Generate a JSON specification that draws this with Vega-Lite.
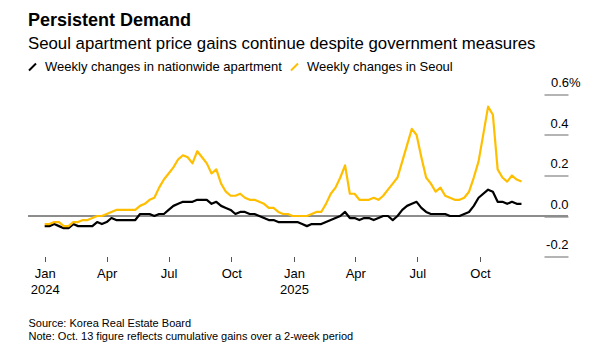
{
  "$schema": "https://vega.github.io/schema/vega-lite/v6.json",
  "width": 540,
  "height": 162,
  "autosize": "none",
  "padding": {"left": 28, "top": 94.5, "right": 26, "bottom": 93.5},
  "background": "white",
  "config": {"view": {"stroke": null}, "font": "Liberation Sans"},
  "title": {
    "text": "Persistent Demand",
    "subtitle": "Seoul apartment price gains continue despite government measures",
    "anchor": "start",
    "frame": "group",
    "font": "Liberation Sans",
    "fontSize": 18,
    "fontWeight": "bold",
    "color": "#000000",
    "subtitleFont": "Liberation Sans",
    "subtitleFontSize": 16.8,
    "subtitleColor": "#000000",
    "subtitlePadding": 6,
    "offset": 8
  },
  "data": {"values": [
    {"date":"2024-01-01","nationwide":-0.05,"seoul":-0.04},
    {"date":"2024-01-08","nationwide":-0.05,"seoul":-0.04},
    {"date":"2024-01-15","nationwide":-0.04,"seoul":-0.03},
    {"date":"2024-01-22","nationwide":-0.05,"seoul":-0.03},
    {"date":"2024-01-29","nationwide":-0.06,"seoul":-0.05},
    {"date":"2024-02-05","nationwide":-0.06,"seoul":-0.05},
    {"date":"2024-02-12","nationwide":-0.04,"seoul":-0.03},
    {"date":"2024-02-19","nationwide":-0.05,"seoul":-0.03},
    {"date":"2024-02-26","nationwide":-0.05,"seoul":-0.02},
    {"date":"2024-03-04","nationwide":-0.05,"seoul":-0.02},
    {"date":"2024-03-11","nationwide":-0.05,"seoul":-0.01},
    {"date":"2024-03-18","nationwide":-0.03,"seoul":0.00},
    {"date":"2024-03-25","nationwide":-0.04,"seoul":0.00},
    {"date":"2024-04-01","nationwide":-0.03,"seoul":0.01},
    {"date":"2024-04-08","nationwide":-0.01,"seoul":0.02},
    {"date":"2024-04-15","nationwide":-0.02,"seoul":0.03},
    {"date":"2024-04-22","nationwide":-0.02,"seoul":0.03},
    {"date":"2024-04-29","nationwide":-0.02,"seoul":0.03},
    {"date":"2024-05-06","nationwide":-0.02,"seoul":0.03},
    {"date":"2024-05-13","nationwide":-0.02,"seoul":0.03},
    {"date":"2024-05-20","nationwide":0.01,"seoul":0.05},
    {"date":"2024-05-27","nationwide":0.01,"seoul":0.06},
    {"date":"2024-06-03","nationwide":0.01,"seoul":0.08},
    {"date":"2024-06-10","nationwide":0.00,"seoul":0.09},
    {"date":"2024-06-17","nationwide":0.01,"seoul":0.14},
    {"date":"2024-06-24","nationwide":0.01,"seoul":0.18},
    {"date":"2024-07-01","nationwide":0.03,"seoul":0.21},
    {"date":"2024-07-08","nationwide":0.05,"seoul":0.24},
    {"date":"2024-07-15","nationwide":0.06,"seoul":0.28},
    {"date":"2024-07-22","nationwide":0.07,"seoul":0.30},
    {"date":"2024-07-29","nationwide":0.07,"seoul":0.29},
    {"date":"2024-08-05","nationwide":0.07,"seoul":0.26},
    {"date":"2024-08-12","nationwide":0.08,"seoul":0.32},
    {"date":"2024-08-19","nationwide":0.08,"seoul":0.29},
    {"date":"2024-08-26","nationwide":0.08,"seoul":0.26},
    {"date":"2024-09-02","nationwide":0.06,"seoul":0.21},
    {"date":"2024-09-09","nationwide":0.07,"seoul":0.23},
    {"date":"2024-09-16","nationwide":0.05,"seoul":0.16},
    {"date":"2024-09-23","nationwide":0.04,"seoul":0.12},
    {"date":"2024-09-30","nationwide":0.03,"seoul":0.10},
    {"date":"2024-10-07","nationwide":0.01,"seoul":0.10},
    {"date":"2024-10-14","nationwide":0.02,"seoul":0.11},
    {"date":"2024-10-21","nationwide":0.02,"seoul":0.09},
    {"date":"2024-10-28","nationwide":0.01,"seoul":0.08},
    {"date":"2024-11-04","nationwide":0.01,"seoul":0.08},
    {"date":"2024-11-11","nationwide":0.00,"seoul":0.07},
    {"date":"2024-11-18","nationwide":-0.01,"seoul":0.06},
    {"date":"2024-11-25","nationwide":-0.02,"seoul":0.04},
    {"date":"2024-12-02","nationwide":-0.02,"seoul":0.04},
    {"date":"2024-12-09","nationwide":-0.03,"seoul":0.02},
    {"date":"2024-12-16","nationwide":-0.03,"seoul":0.01},
    {"date":"2024-12-23","nationwide":-0.03,"seoul":0.01},
    {"date":"2024-12-30","nationwide":-0.03,"seoul":0.00},
    {"date":"2025-01-06","nationwide":-0.03,"seoul":0.00},
    {"date":"2025-01-13","nationwide":-0.04,"seoul":0.00},
    {"date":"2025-01-20","nationwide":-0.05,"seoul":0.00},
    {"date":"2025-01-27","nationwide":-0.04,"seoul":0.01},
    {"date":"2025-02-03","nationwide":-0.04,"seoul":0.02},
    {"date":"2025-02-10","nationwide":-0.04,"seoul":0.02},
    {"date":"2025-02-17","nationwide":-0.03,"seoul":0.06},
    {"date":"2025-02-24","nationwide":-0.02,"seoul":0.11},
    {"date":"2025-03-03","nationwide":-0.01,"seoul":0.14},
    {"date":"2025-03-10","nationwide":0.00,"seoul":0.19},
    {"date":"2025-03-17","nationwide":0.02,"seoul":0.25},
    {"date":"2025-03-24","nationwide":-0.01,"seoul":0.11},
    {"date":"2025-03-31","nationwide":-0.01,"seoul":0.11},
    {"date":"2025-04-07","nationwide":-0.02,"seoul":0.08},
    {"date":"2025-04-14","nationwide":-0.01,"seoul":0.08},
    {"date":"2025-04-21","nationwide":-0.01,"seoul":0.08},
    {"date":"2025-04-28","nationwide":-0.02,"seoul":0.09},
    {"date":"2025-05-05","nationwide":-0.01,"seoul":0.08},
    {"date":"2025-05-12","nationwide":0.00,"seoul":0.10},
    {"date":"2025-05-19","nationwide":0.00,"seoul":0.13},
    {"date":"2025-05-26","nationwide":-0.02,"seoul":0.16},
    {"date":"2025-06-02","nationwide":0.00,"seoul":0.19},
    {"date":"2025-06-09","nationwide":0.03,"seoul":0.27},
    {"date":"2025-06-16","nationwide":0.05,"seoul":0.35},
    {"date":"2025-06-23","nationwide":0.06,"seoul":0.43},
    {"date":"2025-06-30","nationwide":0.07,"seoul":0.40},
    {"date":"2025-07-07","nationwide":0.04,"seoul":0.29},
    {"date":"2025-07-14","nationwide":0.02,"seoul":0.19},
    {"date":"2025-07-21","nationwide":0.01,"seoul":0.16},
    {"date":"2025-07-28","nationwide":0.01,"seoul":0.12},
    {"date":"2025-08-04","nationwide":0.01,"seoul":0.14},
    {"date":"2025-08-11","nationwide":0.01,"seoul":0.10},
    {"date":"2025-08-18","nationwide":0.00,"seoul":0.09},
    {"date":"2025-08-25","nationwide":0.00,"seoul":0.08},
    {"date":"2025-09-01","nationwide":0.00,"seoul":0.08},
    {"date":"2025-09-08","nationwide":0.01,"seoul":0.09},
    {"date":"2025-09-15","nationwide":0.02,"seoul":0.12},
    {"date":"2025-09-22","nationwide":0.05,"seoul":0.19},
    {"date":"2025-09-29","nationwide":0.09,"seoul":0.27},
    {"date":"2025-10-13","nationwide":0.13,"seoul":0.54},
    {"date":"2025-10-20","nationwide":0.12,"seoul":0.50},
    {"date":"2025-10-27","nationwide":0.07,"seoul":0.23},
    {"date":"2025-11-03","nationwide":0.07,"seoul":0.19},
    {"date":"2025-11-10","nationwide":0.06,"seoul":0.17},
    {"date":"2025-11-17","nationwide":0.07,"seoul":0.20},
    {"date":"2025-11-24","nationwide":0.06,"seoul":0.18},
    {"date":"2025-12-01","nationwide":0.06,"seoul":0.17}
  ]},
  "layer": [
    {
      "mark": {"type": "rule", "color": "#8c8c8c", "strokeWidth": 1},
      "encoding": {"y": {"datum": 0}}
    },
    {
      "transform": [{"fold": ["nationwide", "seoul"], "as": ["series", "value"]}],
      "mark": {"type": "line", "strokeWidth": 2.2, "strokeJoin": "round"},
      "encoding": {
        "x": {
          "field": "date",
          "type": "temporal",
          "scale": {
            "type": "utc",
            "domain": [
              {"year": 2023, "month": 12, "date": 7, "hours": 12, "utc": true},
              {"year": 2026, "month": 2, "date": 7, "hours": 7, "utc": true}
            ]
          },
          "axis": {
            "values": [
              {"year": 2024, "month": 1, "date": 1, "utc": true},
              {"year": 2024, "month": 4, "date": 1, "utc": true},
              {"year": 2024, "month": 7, "date": 1, "utc": true},
              {"year": 2024, "month": 10, "date": 1, "utc": true},
              {"year": 2025, "month": 1, "date": 1, "utc": true},
              {"year": 2025, "month": 4, "date": 1, "utc": true},
              {"year": 2025, "month": 7, "date": 1, "utc": true},
              {"year": 2025, "month": 10, "date": 1, "utc": true}
            ],
            "labelExpr": "utcmonth(datum.value) == 0 ? [utcFormat(datum.value, '%b'), utcFormat(datum.value, '%Y')] : utcFormat(datum.value, '%b')",
            "domain": false,
            "grid": false,
            "tickSize": 5,
            "tickColor": "#555555",
            "tickWidth": 1,
            "labelFont": "Liberation Sans",
            "labelFontSize": 13,
            "labelColor": "#000000",
            "labelPadding": 6,
            "labelLineHeight": 16,
            "labelFlush": false,
            "labelOverlap": false,
            "title": ["Source: Korea Real Estate Board", "Note: Oct. 13 figure reflects cumulative gains over a 2-week period"],
            "titleAnchor": "start",
            "titleAlign": "left",
            "titleFont": "Liberation Sans",
            "titleFontSize": 11,
            "titleFontWeight": "normal",
            "titleColor": "#000000",
            "titleLineHeight": 13,
            "titlePadding": 21
          }
        },
        "y": {
          "field": "value",
          "type": "quantitative",
          "scale": {"domain": [-0.2, 0.6], "nice": false, "zero": false},
          "axis": {
            "orient": "right",
            "values": [-0.2, 0, 0.2, 0.4, 0.6],
            "domain": false,
            "grid": false,
            "tickSize": -24,
            "tickColor": "#8c8c8c",
            "tickWidth": 1.3,
            "labelExpr": "datum.value == 0.6 ? '0.6%' : (datum.value < 0 ? '-' + format(-datum.value, '.1f') : format(datum.value, '.1f'))",
            "labelAlign": {"condition": {"test": "datum.value == 0.6", "value": "left"}, "value": "right"},
            "labelPadding": {"condition": {"test": "datum.value == 0.6", "value": 6.5}, "value": 24},
            "labelBaseline": "alphabetic",
            "labelOffset": -8,
            "labelFont": "Liberation Sans",
            "labelFontSize": 13,
            "labelColor": "#000000",
            "title": null
          }
        },
        "color": {
          "field": "series",
          "type": "nominal",
          "scale": {"domain": ["nationwide", "seoul"], "range": ["#000000", "#ffbf00"]},
          "legend": {
            "orient": "none",
            "legendX": -2,
            "legendY": -34,
            "direction": "horizontal",
            "title": null,
            "symbolType": "M-1,1L1,-1",
            "symbolSize": 49,
            "symbolStrokeWidth": 2,
            "labelFont": "Liberation Sans",
            "labelFontSize": 13,
            "labelColor": "#000000",
            "labelOffset": 6,
            "labelLimit": 400,
            "columnPadding": 5,
            "labelExpr": "datum.label == 'nationwide' ? 'Weekly changes in nationwide apartment' : 'Weekly changes in Seoul'"
          }
        }
      }
    }
  ]
}
